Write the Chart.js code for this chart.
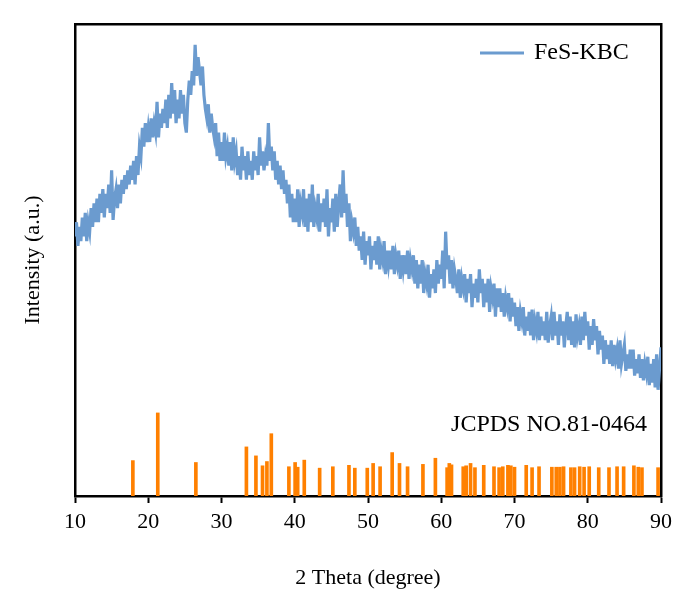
<!DOCTYPE html>
<html>
<head>
<meta charset="utf-8">
<script src="https://cdn.jsdelivr.net/npm/chart.js@4.4.0/dist/chart.umd.min.js"></script>
<style>
html, body { margin: 0; padding: 0; background: #fff; }
</style>
</head>
<body>
<canvas id="xrd" width="678" height="592"></canvas>
<script>
// scan grid of the measured pattern (2 theta, degrees)
var thetaStart = 10;
var thetaStep = 0.2;

// FeS-KBC intensity (a.u.)
var intensity = [
  55, 58, 53, 57, 54, 59, 55, 60, 54, 58,
  56, 61, 57, 62, 58, 63, 58, 64, 60, 65,
  59, 64, 61, 66, 60, 69, 58.5, 63, 65, 61,
  66, 62, 67, 64, 68, 65, 69, 66, 70, 67,
  71, 66, 72, 68, 74, 72, 78, 74, 79, 75,
  78, 75, 80, 76, 79, 77, 83.5, 76, 81, 78,
  82, 79, 84, 78, 85, 80, 87.5, 81, 86, 79,
  84, 80, 86, 81, 85, 79, 77, 84, 88, 85,
  90, 87, 95.6, 89, 93, 90, 87, 91, 85, 82,
  80, 83, 77, 81, 78, 76, 79, 72, 77, 71,
  75, 71, 77, 72, 74, 70, 75, 69, 76, 71,
  73, 68, 72, 67, 74, 69, 72, 67, 73, 68,
  71, 67, 73, 69, 72, 68, 76, 70, 73, 69,
  72, 70, 79, 71, 74, 69, 73, 67, 71, 66,
  70, 65, 69, 64, 67, 62, 66, 59, 64, 58,
  63, 58, 65, 57, 62, 60, 65, 57, 63, 56,
  64, 58, 66, 57, 61, 59, 64, 56, 62, 58,
  63, 57, 65, 55, 61, 58, 63, 56, 64, 57,
  62, 66, 59, 69, 60, 64, 57, 62, 54, 58,
  56, 59, 53, 57, 52, 55, 50, 56, 49, 54,
  51, 55, 48, 53, 50, 54, 49, 55, 48, 52,
  50, 54, 47, 52, 49, 52, 48, 53, 47, 51,
  49, 52, 46, 51, 48, 51, 47, 52, 46, 50,
  48, 51, 45, 50, 44, 49, 45, 50, 43, 47,
  45, 49, 42, 47, 44, 48, 43, 50, 45, 49,
  46, 52, 44, 56, 48, 51, 45, 50, 44, 48,
  46, 43, 48, 42, 46, 44, 47, 41, 46, 43,
  47, 40, 45, 42, 46, 41, 48, 43, 46, 40,
  45, 41, 46, 39, 44, 42, 45, 38, 44, 40,
  44, 39, 43, 38, 42, 40, 43, 37, 42, 38,
  41, 36, 40, 35, 39, 37, 40, 34, 38, 35,
  39, 34, 39.5, 33, 37, 35, 39, 33, 38, 34,
  37, 33, 39, 32.5, 36, 38, 33, 39, 34, 37,
  32, 38.5, 34, 37, 31.5, 36, 39, 33, 38, 32,
  37, 31.5, 38.5, 34, 36, 32, 38, 33, 39, 34,
  37, 31, 36, 32, 37.5, 33, 36, 30, 35, 31,
  34, 28, 33, 29, 32, 28, 33, 27.5, 32, 29,
  31, 27, 33, 28, 30, 32, 26.5, 30, 27, 31,
  27, 31, 25.5, 29, 26, 30, 25, 29, 24.5, 28,
  26, 29.5, 23.5, 28, 24, 29, 23, 30, 22.5, 27,
  31.5
];

// JCPDS 81-0464 reference lines
var refTheta = [
  17.9, 21.3, 26.5, 33.4, 34.7, 35.6, 36.2, 36.8, 39.2, 40.05,
  40.4, 41.3, 43.4, 45.2, 47.4, 48.2, 49.9, 50.7, 51.65, 53.3,
  54.3, 55.4, 57.5, 59.2, 60.8, 61.1, 61.4, 63.0, 63.4, 64.0,
  64.6, 65.8, 67.2, 67.9, 68.4, 69.1, 69.5, 70.0, 71.6, 72.4,
  73.35, 75.1, 75.7, 76.2, 76.7, 77.7, 78.2, 78.9, 79.5, 80.2,
  81.5, 82.9, 84.0, 84.9, 86.3, 86.9, 87.4, 89.6
];
var refHeight = [
  7.5, 17.6, 7.1, 10.4, 8.5, 6.4, 7.3, 13.2, 6.2, 7.1,
  6.1, 7.6, 5.9, 6.2, 6.5, 5.9, 5.9, 6.9, 6.2, 9.2,
  6.9, 6.2, 6.7, 8.0, 6.0, 6.9, 6.6, 6.2, 6.4, 6.9,
  6.0, 6.5, 6.2, 6.0, 6.2, 6.5, 6.4, 6.1, 6.5, 6.0,
  6.2, 6.1, 6.1, 6.1, 6.2, 6.0, 6.0, 6.2, 6.1, 6.2,
  6.0, 6.0, 6.2, 6.2, 6.4, 6.1, 6.0, 6.0
];

var xTickValues = [10, 20, 30, 40, 50, 60, 70, 80, 90];
var seriesName = 'FeS-KBC';
var refName = 'JCPDS NO.81-0464';

var lineColor = '#6B9BCF';
var barColor = '#FF8000';
var serif = '"Liberation Serif", "Times New Roman", serif';

var linePoints = intensity.map(function (v, i) {
  return { x: +(thetaStart + i * thetaStep).toFixed(1), y: v };
});
var refPoints = refTheta.map(function (t, i) {
  return { x: t, y: refHeight[i] };
});

// legend sample in the top right corner and the card label above the reference lines
var labelsPlugin = {
  id: 'labels',
  afterDatasetsDraw: function (chart) {
    var ctx = chart.ctx;
    var area = chart.chartArea;
    ctx.save();
    ctx.font = '24px ' + serif;
    ctx.fillStyle = '#000';
    ctx.textBaseline = 'middle';

    var ly = area.top + 29;
    ctx.strokeStyle = lineColor;
    ctx.lineWidth = 3;
    ctx.beginPath();
    ctx.moveTo(area.right - 181, ly);
    ctx.lineTo(area.right - 137, ly);
    ctx.stroke();
    ctx.textAlign = 'left';
    ctx.fillText(seriesName, area.right - 127, ly);

    ctx.textAlign = 'right';
    ctx.fillText(refName, chart.scales.x.getPixelForValue(88.1), chart.scales.y.getPixelForValue(15));
    ctx.restore();
  }
};

new Chart(document.getElementById('xrd').getContext('2d'), {
  data: {
    datasets: [
      {
        type: 'line',
        label: seriesName,
        data: linePoints,
        borderColor: lineColor,
        backgroundColor: lineColor,
        borderWidth: 3.2,
        pointRadius: 0,
        tension: 0,
        order: 1
      },
      {
        type: 'bar',
        label: refName,
        data: refPoints,
        backgroundColor: barColor,
        barThickness: 3,
        order: 2
      }
    ]
  },
  options: {
    responsive: false,
    animation: false,
    events: [],
    layout: { padding: 0 },
    scales: {
      x: {
        type: 'linear',
        position: 'bottom',
        min: 10,
        max: 90,
        offset: false,
        afterBuildTicks: function (s) { s.ticks = xTickValues.map(function (v) { return { value: v }; }); },
        afterFit: function (s) { s.height = 96; },
        grid: { display: true, offset: false, drawOnChartArea: false, drawTicks: true, tickLength: 7, tickColor: '#000', tickWidth: 2 },
        border: { display: true, color: '#000', width: 2.5 },
        ticks: { color: '#000', padding: 6, maxRotation: 0, font: { family: serif, size: 22 } },
        title: { display: true, text: '2 Theta (degree)', color: '#000', padding: { top: 0, bottom: 1 }, font: { family: serif, size: 22 } }
      },
      y: {
        type: 'linear',
        position: 'left',
        min: 0,
        max: 100,
        afterFit: function (s) { s.width = 75; },
        grid: { display: false },
        border: { display: true, color: '#000', width: 2.5 },
        ticks: { display: false },
        title: { display: true, text: 'Intensity (a.u.)', color: '#000', padding: { top: 20, bottom: 0 }, font: { family: serif, size: 22 } }
      },
      x2: {
        type: 'linear',
        position: 'top',
        min: 10,
        max: 90,
        offset: false,
        afterFit: function (s) { s.height = 24; },
        grid: { display: false },
        border: { display: true, color: '#000', width: 2.5 },
        ticks: { display: false }
      },
      y2: {
        type: 'linear',
        position: 'right',
        min: 0,
        max: 100,
        afterFit: function (s) { s.width = 16; },
        grid: { display: false },
        border: { display: true, color: '#000', width: 2.5 },
        ticks: { display: false }
      }
    },
    plugins: {
      tooltip: { enabled: false },
      legend: { display: false }
    }
  },
  plugins: [labelsPlugin]
});
</script>
</body>
</html>
